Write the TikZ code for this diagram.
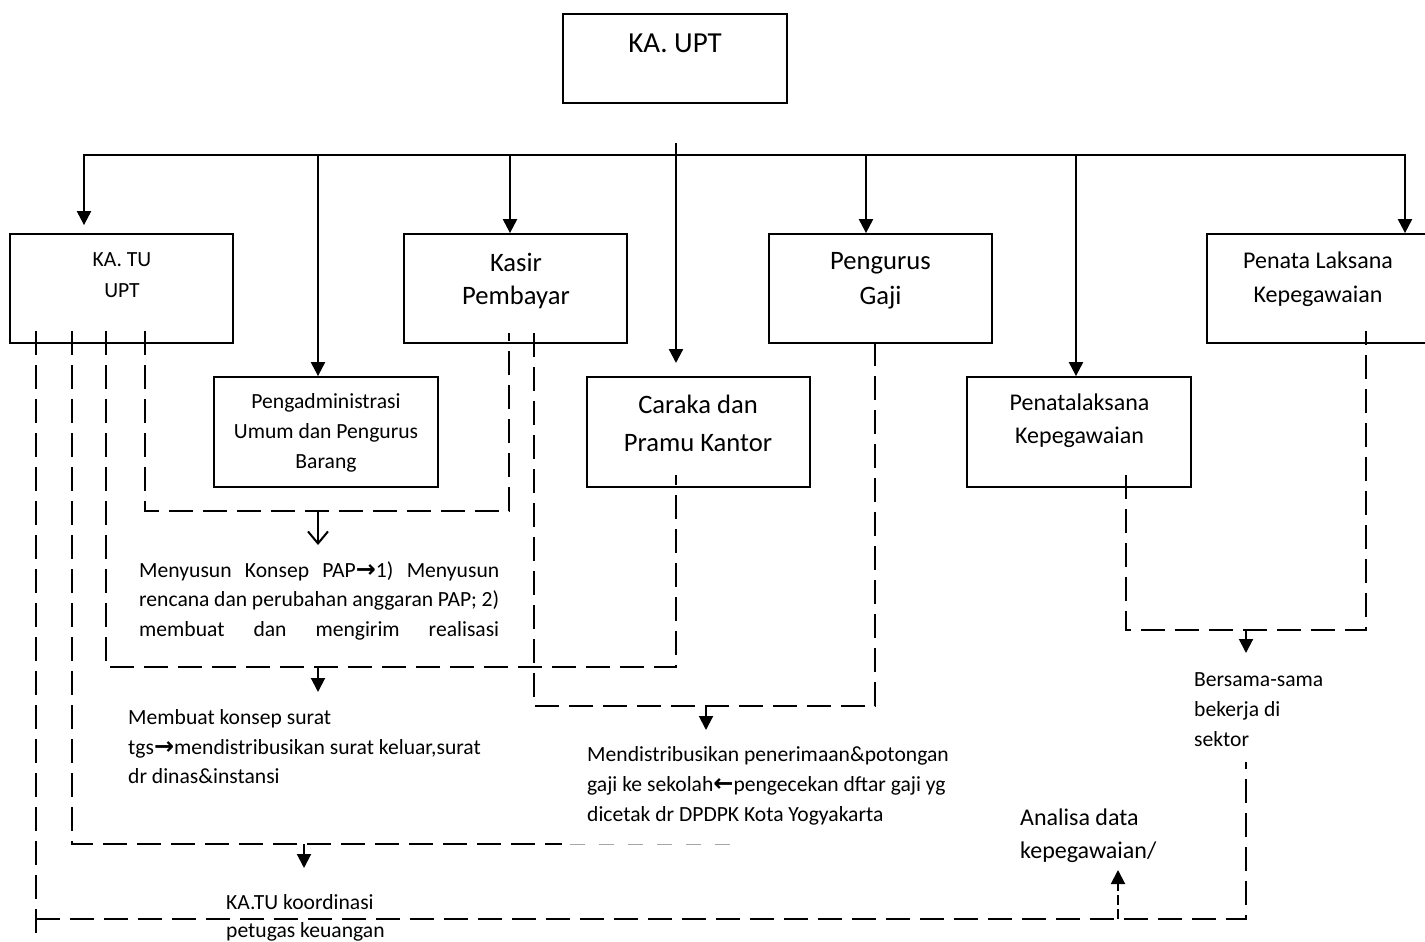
\documentclass[tikz,border=0pt]{standalone}
\usepackage{fontspec}
\setmainfont{Carlito}
\newfontfamily\symf{DejaVu Sans}
\usetikzlibrary{arrows.meta}
\newcommand{\myRarr}{{\symf\bfseries\fontsize{24}{24}\selectfont →}}
\newcommand{\myLarr}{{\symf\bfseries\fontsize{24}{24}\selectfont ←}}
\begin{document}
\begin{tikzpicture}[x=1pt,y=-1pt,
  box/.style={draw, line width=1.8pt, minimum width=223pt, minimum height=109pt, inner sep=0pt},
  solidline/.style={line width=2.2pt},
  tri/.style={-{Triangle[length=14pt,width=14pt]}},
  barb/.style={-{Straight Barb[length=12pt,width=20pt,line width=2pt]}},
  dline/.style={line width=2pt, dash pattern=on 24pt off 10pt},
  gline/.style={line width=1pt, gray!70, dash pattern=on 15pt off 14pt},
  ct/.style={anchor=base, inner sep=0pt},
  lt/.style={anchor=base west, inner sep=0pt},
  fA/.style={font=\fontsize{21.6}{25}\selectfont},
  fB/.style={font=\fontsize{24}{29}\selectfont},
  fC/.style={font=\fontsize{26.6}{31}\selectfont},
  fD/.style={font=\fontsize{29}{35}\selectfont}]
\useasboundingbox (0,0) rectangle (1425,942);

% boxes
\node[box, minimum width=224pt, minimum height=89pt] (kaupt) at (675,58.5) {};
\node[box] (katu) at (121.5,288.5) {};
\node[box] (kasir) at (515.5,288.5) {};
\node[box] (pengurus) at (880.5,288.5) {};
\node[box] (penata) at (1318.5,288.5) {};
\node[box, minimum width=224pt, minimum height=110pt] (pengadm) at (326,432) {};
\node[box, minimum height=110pt] (caraka) at (698.5,432) {};
\node[box, minimum width=224pt, minimum height=110pt] (penatal) at (1079,432) {};

% box texts
\node[ct,fD] (t0) at (675,53) {KA. UPT};
\node[ct,fA] (t1a) at (122,266) {KA. TU};
\node[ct,fA] (t1b) at (122,297) {UPT};
\node[ct,fC] (t2a) at (516,271) {Kasir};
\node[ct,fC] (t2b) at (516,304) {Pembayar};
\node[ct,fC] (t3a) at (880.5,269) {Pengurus};
\node[ct,fC] (t3b) at (880.5,304) {Gaji};
\node[ct,fB] (t4a) at (1318,268) {Penata Laksana};
\node[ct,fB] (t4b) at (1318,302) {Kepegawaian};
\node[ct,fA] (t5a) at (326,408) {Pengadministrasi};
\node[ct,fA] (t5b) at (326,438) {Umum dan Pengurus};
\node[ct,fA] (t5c) at (326,468) {Barang};
\node[ct,fC] (t6a) at (698,413) {Caraka dan};
\node[ct,fC] (t6b) at (698,451) {Pramu Kantor};
\node[ct,fB] (t7a) at (1079.5,410) {Penatalaksana};
\node[ct,fB] (t7b) at (1079.5,443) {Kepegawaian};

% tree
\coordinate (top) at (676,143);
\coordinate (b84) at (84,155);
\coordinate (b318) at (318,155);
\coordinate (b510) at (510,155);
\coordinate (b676) at (676,155);
\coordinate (b866) at (866,155);
\coordinate (b1076) at (1076,155);
\coordinate (b1405) at (1405,155);
\coordinate (cartip) at (676,363);
\draw[solidline,tri] (b676) -- (b84) -- ([yshift=8pt]b84 |- katu.north);
\draw[solidline,tri] (b676) -- (b1405) -- (b1405 |- penata.north);
\draw[solidline,tri] (top) -- (cartip);
\draw[solidline,tri] (b318) -- (b318 |- pengadm.north);
\draw[solidline,tri] (b510) -- (b510 |- kasir.north);
\draw[solidline,tri] (b866) -- (b866 |- pengurus.north);
\draw[solidline,tri] (b1076) -- (b1076 |- penatal.north);

% dashed group 1 (Pengadministrasi)
\coordinate (a1) at (145,331);
\coordinate (a2) at (145,511);
\coordinate (a3) at (509,511);
\coordinate (a4) at (509,333);
\coordinate (am) at (318,511);
\coordinate (amt) at (318,545);
\draw[dline] (a1) -- (a2) -- (a3) -- (a4);
\draw[line width=2pt,barb] (am) -- (amt);
\node[lt,fA] (n1a) at (139,577) {\makebox[360pt][s]{Menyusun Konsep PAP\myRarr 1) Menyusun}};
\node[lt,fA] (n1b) at (139,606) {\makebox[360pt][s]{rencana dan perubahan anggaran PAP; 2)}};
\node[lt,fA] (n1c) at (139,636) {\makebox[360pt][s]{membuat dan mengirim realisasi}};

% dashed group 2 (Caraka)
\coordinate (c1) at (106,331);
\coordinate (c2) at (106,667);
\coordinate (c3) at (676,667);
\coordinate (c4) at (676,475);
\coordinate (cm) at (318,667);
\coordinate (cmt) at (318,692);
\draw[dline] (c1) -- (c2) -- (c3) -- (c4);
\draw[line width=2pt,tri] (cm) -- (cmt);
\node[lt,fA] (n2a) at (128,724) {Membuat konsep surat};
\node[lt,fA] (n2b) at (128,754) {tgs\myRarr mendistribusikan surat keluar,surat};
\node[lt,fA] (n2c) at (128,783) {dr dinas\&instansi};

% dashed group 3 (Gaji)
\coordinate (g1) at (534,333);
\coordinate (g2) at (534,706);
\coordinate (g3) at (875,706);
\coordinate (g4) at (875,333);
\coordinate (gm) at (706,706);
\coordinate (gmt) at (706,730);
\draw[dline] (g1) -- (g2) -- (g3) -- (g4);
\draw[line width=2pt,tri] (gm) -- (gmt);
\node[lt,fA] (n3a) at (587,761) {Mendistribusikan penerimaan\&potongan};
\node[lt,fA] (n3b) at (587,791) {gaji ke sekolah\myLarr pengecekan dftar gaji yg};
\node[lt,fA] (n3c) at (587,821) {dicetak dr DPDPK Kota Yogyakarta};

% dashed group 4 (KA.TU koordinasi)
\coordinate (k1) at (72,331);
\coordinate (k2) at (72,844);
\coordinate (k3) at (562,844);
\coordinate (k4) at (570,844);
\coordinate (k5) at (736,844);
\coordinate (km) at (304,844);
\coordinate (kmt) at (304,868);
\draw[dline] (k1) -- (k2) -- (k3);
\draw[gline] (k4) -- (k5);
\draw[line width=2pt,tri] (km) -- (kmt);
\node[lt,fA] (n4a) at (226,909) {KA.TU koordinasi};
\node[lt,fA] (n4b) at (226,937) {petugas keuangan};

% dashed group 5 (Kepegawaian)
\coordinate (p1) at (1126,475);
\coordinate (p2) at (1126,630);
\coordinate (p3) at (1366,630);
\coordinate (p4) at (1366,331);
\coordinate (pm) at (1246,630);
\coordinate (pmt) at (1246,653);
\draw[dline] (p1) -- (p2) -- (p3) -- (p4);
\draw[line width=2pt,tri] (pm) -- (pmt);
\node[lt,fA] (n5a) at (1194,686) {Bersama-sama};
\node[lt,fA] (n5b) at (1194,716) {bekerja di};
\node[lt,fA] (n5c) at (1194,746) {sektor};

% dashed group 6 (Analisa)
\coordinate (q1) at (36,331);
\coordinate (q2) at (36,942);
\coordinate (q3) at (36,919);
\coordinate (q4) at (1246,919);
\coordinate (q5) at (1246,762);
\coordinate (qm) at (1118,919);
\coordinate (qmt) at (1118,870);
\draw[dline] (q1) -- (q2);
\draw[dline] (q3) -- (q4) -- (q5);
\draw[line width=2pt,dash pattern=on 10pt off 4pt,tri] (qm) -- (qmt);
\node[lt,fB] (n6a) at (1020,825) {Analisa data};
\node[lt,fB] (n6b) at (1020,858) {kepegawaian/};
\end{tikzpicture}
\end{document}
